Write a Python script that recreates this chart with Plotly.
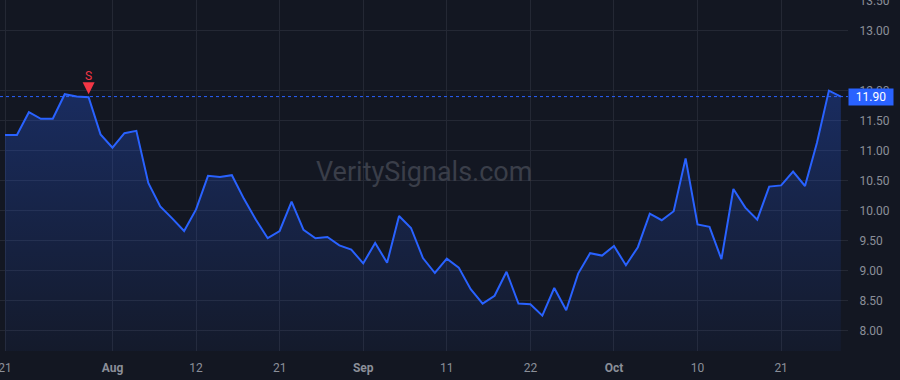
import plotly.graph_objects as go

# ---- data ----
prices = [11.26, 11.26, 11.64, 11.53, 11.53, 11.94, 11.90, 11.89, 11.27, 11.05,
          11.29, 11.33, 10.46, 10.07, 9.87, 9.66, 10.02, 10.58, 10.56, 10.59,
          10.20, 9.85, 9.54, 9.66, 10.15, 9.68, 9.54, 9.56, 9.42, 9.35,
          9.12, 9.46, 9.13, 9.91, 9.71, 9.21, 8.96, 9.20, 9.05, 8.69,
          8.45, 8.58, 8.98, 8.45, 8.44, 8.25, 8.71, 8.34, 8.95, 9.29,
          9.25, 9.41, 9.09, 9.39, 9.95, 9.84, 9.99, 10.87, 9.77, 9.73,
          9.19, 10.36, 10.05, 9.85, 10.40, 10.42, 10.65, 10.41, 11.13, 12.00,
          11.90]
idx = list(range(len(prices)))

x_tick_pos = [0, 9, 16, 23, 30, 37, 44, 51, 58, 65]
x_tick_labels = ["21", "<b>Aug</b>", "12", "21", "<b>Sep</b>", "11", "22", "<b>Oct</b>", "10", "21"]
y_ticks = [8.0, 8.5, 9.0, 9.5, 10.0, 10.5, 11.0, 11.5, 12.0, 13.0, 13.5]
y_tick_labels = [f"{v:.2f}" for v in y_ticks]

signal_index = 7
signal_text = "S"
last_price = prices[-1]
watermark = "VeritySignals.com"

BG = "#131722"
GRID = "#242834"
TEXT = "#8b8f99"
BLUE = "#2962ff"
RED = "#f23645"

fig = go.Figure()
fig.add_trace(go.Scatter(
    x=idx, y=prices, mode="lines",
    line=dict(color=BLUE, width=2),
    fill="tozeroy",
    fillgradient=dict(type="vertical", start=7.6, stop=12.0,
                      colorscale=[[0, "rgba(41,98,255,0.04)"], [1, "rgba(41,98,255,0.28)"]]),
    hoverinfo="skip", showlegend=False,
))

# last price dotted line
fig.add_shape(type="line", xref="paper", x0=0, x1=1, yref="y", y0=last_price, y1=last_price,
              line=dict(color=BLUE, width=1, dash="dot"))

# signal marker
fig.add_annotation(x=signal_index, y=prices[signal_index], text=signal_text,
                   showarrow=True, ax=0, ay=-21, arrowhead=2, arrowsize=0.8, arrowwidth=3,
                   arrowcolor=RED, standoff=3, font=dict(color=RED, size=12, family="Roboto"))

# price label
fig.add_annotation(xref="paper", x=1, xanchor="left", yref="y", y=last_price,
                   text=f"{last_price:.2f}", showarrow=False, bgcolor=BLUE,
                   font=dict(color="white", size=12, family="Roboto"),
                   width=44, height=16, borderpad=0)

# watermark
fig.add_annotation(xref="paper", yref="paper", x=0.5, y=0.51, text=watermark, showarrow=False,
                   font=dict(color="#3a3e49", size=27, family="Roboto"))

fig.update_layout(
    width=900, height=380,
    paper_bgcolor=BG, plot_bgcolor=BG,
    margin=dict(l=0, r=52, t=0, b=29),
    font=dict(family="Roboto", color=TEXT, size=12),
    xaxis=dict(range=[-0.42, 70.6], tickmode="array", tickvals=x_tick_pos, ticktext=x_tick_labels,
               showgrid=True, gridcolor=GRID, gridwidth=1, zeroline=False, showline=False,
               ticks="outside", ticklen=6, tickcolor=BG, tickfont=dict(color=TEXT, size=12),
               ticklabeloverflow="allow", automargin=False),
    yaxis=dict(range=[7.66, 13.51], side="right", tickmode="array", tickvals=y_ticks,
               ticktext=y_tick_labels, showgrid=True, gridcolor=GRID, gridwidth=1,
               zeroline=False, showline=False, ticks="outside", ticklen=8, tickcolor=BG,
               tickfont=dict(color=TEXT, size=12), ticklabeloverflow="allow", automargin=False),
)

fig.write_html("out.html")
